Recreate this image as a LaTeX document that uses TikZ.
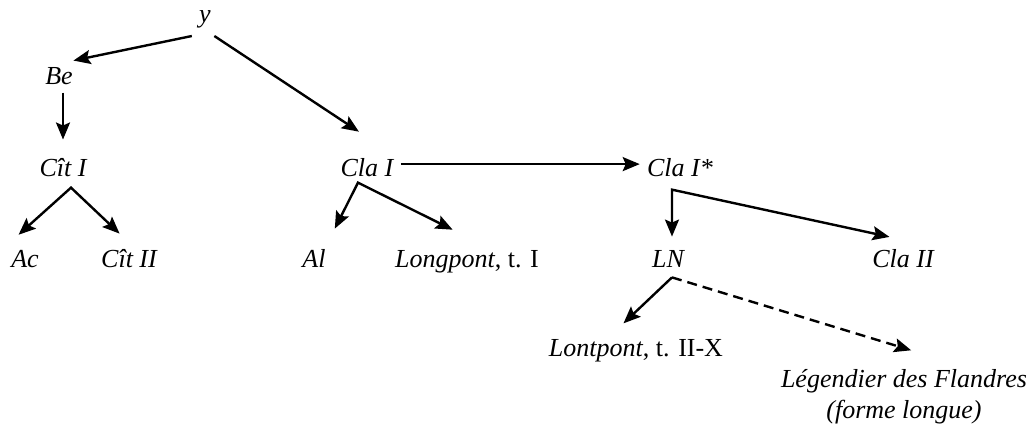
\documentclass[tikz,border=0pt]{standalone}
\usepackage{fontspec}
\setmainfont{Liberation Serif}
\usepackage{tikz}
\usetikzlibrary{arrows.meta}

\tikzset{
  witness/.style = {font = \fontsize{13}{15.6}\selectfont\itshape, inner sep = 3.5pt, anchor = base},
  filiation/.style = {->, line width = 1.2pt},
  lost/.style = {dash pattern = on 5pt off 3pt}
}

\begin{document}
\begin{tikzpicture}[x = 0.5pt, y = -0.5pt, >={Stealth[length = 8.5pt, width = 7pt, inset = 1.5pt]}]
    \useasboundingbox (0,0) rectangle (1035,427);

    \node[witness](archetype) at (205,23) {y};
    \node[witness](Be) at (59,85) {Be};
    \node[witness](citI) at (63,177) {Cît I};
    \node[witness](claI) at (367,177) {Cla I};
    \node[witness](claIs) at (680,177) {Cla I*};
    \node[witness](Ac) at (25,268) {Ac};
    \node[witness](citII) at (129,268) {Cît II};
    \node[witness](Al) at (314,268) {Al};
    \node[witness](longpontI) at (467,268) {Longpont\textup{, t. I}};
    \node[witness](LN) at (668,268) {LN};
    \node[witness](claII) at (903,268) {Cla II};
    \node[witness](lontpont) at (636,357) {Lontpont\textup{, t. II-X}};
    \node[witness, align = center, anchor = center](legendier) at (904,397) {Légendier des Flandres\\(forme longue)};

    \coordinate (citIFork) at ([shift = {(8,3)}]citI.south);
    \coordinate (claIFork) at ([shift = {(-9,-2)}]claI.south);
    \coordinate (claIsFork) at ([shift = {(-8,5)}]claIs.south);
    \coordinate (lnFork) at ([shift = {(4,2)}]LN.south);

    \draw[filiation] (archetype.south west) -- (Be.48);
    \draw[filiation, shorten > = 18pt] (archetype.-60) -- (claI.37);
    \draw[filiation, shorten > = 6pt] (Be.south -| citI.north) -- (citI.north);
    \draw[filiation, <->, shorten < = 6.5pt, shorten > = 6.5pt] (Ac.135) -- (citIFork) -- (citII.north);
    \draw[filiation, <->, shorten < = 7.8pt, shorten > = 15.6pt] (Al.50) -- (claIFork) -- (longpontI.54);
    \draw[filiation] ([yshift = 2pt]claI.east) -- ([yshift = 2pt]claIs.west);
    \draw[filiation, <->, shorten < = 3.5pt, shorten > = 13.3pt] (claIsFork |- LN.north) -- (claIsFork) -- (claII.53);
    \draw[filiation, shorten > = 6.7pt] (lnFork) -- (lontpont.140);
    \draw[filiation, lost, shorten > = 20.4pt] (lnFork) -- (legendier.37.5);
\end{tikzpicture}
\end{document}
